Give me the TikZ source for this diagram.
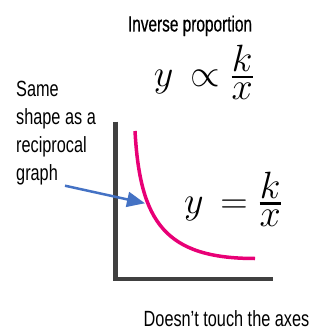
\RequirePackage{fix-cm}
\documentclass[tikz,border=0pt]{standalone}
\usepackage{amsmath,amssymb}
\usepackage{fontspec}
\usepackage{tikz}
\usetikzlibrary{arrows.meta}
\newfontfamily\handfont[FakeStretch=0.74]{Liberation Sans}
\newfontfamily\handbold[FakeStretch=0.7,FakeBold=0.5]{Liberation Sans}
\definecolor{curvepink}{RGB}{232,0,118}
\definecolor{arrowblue}{RGB}{68,114,196}
\definecolor{axisgrey}{RGB}{64,64,64}
\newcommand{\thickfrac}[2]{\genfrac{}{}{2.5pt}{1}{\textstyle #1}{\textstyle #2}}

\begin{document}
\begin{tikzpicture}[x=1pt,y=-1pt,
    hand/.style={font=\handfont\fontsize{22}{28}\selectfont, inner sep=0pt},
    formula/.style={font=\fontsize{38}{44}\selectfont, inner sep=0pt}]
			\useasboundingbox (0,0) rectangle (325,334);
			% axes
			\coordinate (ytop) at (115.3,121.7);
			\coordinate (origin) at (115.3,279);
			\coordinate (xend) at (273,279);
			\draw[axisgrey,line width=4.5pt] (ytop) -- (origin.center) -- (xend);
			% the reciprocal curve
			\draw[curvepink,line width=3.5pt] (135,131) .. controls (140,222) and (165,258.5) .. (255,258.5);
			\node[hand,font=\handbold\fontsize{22}{28}\selectfont,anchor=base] (title) at (190,31.5) {Inverse proportion};
			\node[formula] (propto) at (204,72.5) {$y\,\propto \thickfrac{k}{x}$};
			\node[formula] (equation) at (233,199) {$y\,= \thickfrac{k}{x}$};
			\node[hand,anchor=north west,align=left] (shape) at (16,80.5) {Same\\shape as a\\reciprocal\\graph};
			\node[hand,anchor=base] (touch) at (226.5,326) {Doesn’t touch the axes};
			\coordinate (arrowstart) at (65,185.7);
			\coordinate (arrowtip) at (145,203.3);
			\draw[arrowblue,line width=2.5pt,-{Triangle[length=18pt,width=15pt]}] (arrowstart) -- (arrowtip);
		\end{tikzpicture}
\end{document}
